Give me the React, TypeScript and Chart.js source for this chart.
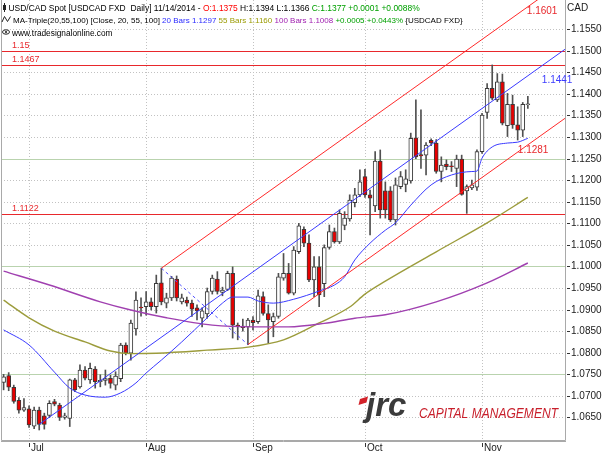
import React, { useEffect, useRef } from "react";
import { Chart, registerables } from "chart.js";
Chart.register(...registerables);

// bar index 0 = 2014-06-24 (daily bars)
const opens = [
  1.0731, 1.0747, 1.0720, 1.0690, 1.0667, 1.0670, 1.0630, 1.0667, 1.0654, 1.0655,
  1.0687, 1.0679, 1.0650, 1.0648, 1.0737, 1.0721, 1.0760, 1.0737, 1.0762, 1.0733,
  1.0736, 1.0741, 1.0725, 1.0740, 1.0818, 1.0799, 1.0855, 1.0906, 1.0907, 1.0918,
  1.0907, 1.0962, 1.0915, 1.0927, 1.0971, 1.0918, 1.0922, 1.0915, 1.0904, 1.0880,
  1.0890, 1.0942, 1.0971, 1.0940, 1.0947, 1.0984, 1.0864, 1.0862, 1.0860, 1.0876,
  1.0872, 1.0930, 1.0891, 1.0872, 1.0884, 1.0973, 1.0984, 1.0938, 1.1034, 1.1086,
  1.1054, 1.0969, 1.0999, 1.0960, 1.1044, 1.1081, 1.1057, 1.1095, 1.1110, 1.1148,
  1.1166, 1.1208, 1.1166, 1.1140, 1.1244, 1.1175, 1.1175, 1.1108, 1.1185, 1.1190,
  1.1198, 1.1298, 1.1259, 1.1258, 1.1292, 1.1286, 1.1220, 1.1237, 1.1233, 1.1227,
  1.1249, 1.1175, 1.1182, 1.1184, 1.1266, 1.1357, 1.1413, 1.1386, 1.1428, 1.1326,
  1.1376, 1.1328, 1.1316, 1.1375,
];
const highs = [
  1.0750, 1.0754, 1.0725, 1.0696, 1.0694, 1.0677, 1.0674, 1.0674, 1.0660, 1.0689,
  1.0692, 1.0683, 1.0660, 1.0739, 1.0741, 1.0772, 1.0768, 1.0776, 1.0768, 1.0749,
  1.0760, 1.0748, 1.0756, 1.0822, 1.0823, 1.0876, 1.0941, 1.0927, 1.0942, 1.0927,
  1.0980, 1.0996, 1.0938, 1.0977, 1.0978, 1.0936, 1.0929, 1.0922, 1.0911, 1.0904,
  1.0950, 1.0980, 1.0988, 1.0952, 1.0989, 1.0999, 1.0869, 1.0878, 1.0880, 1.0884,
  1.0945, 1.0941, 1.0911, 1.0892, 1.0984, 1.1030, 1.1007, 1.1046, 1.1100, 1.1092,
  1.1073, 1.1023, 1.1023, 1.1050, 1.1096, 1.1089, 1.1131, 1.1127, 1.1166, 1.1181,
  1.1224, 1.1225, 1.1177, 1.1266, 1.1270, 1.1196, 1.1185, 1.1205, 1.1220, 1.1224,
  1.1309, 1.1386, 1.1363, 1.1287, 1.1296, 1.1294, 1.1254, 1.1247, 1.1243, 1.1258,
  1.1258, 1.1189, 1.1200, 1.1270, 1.1355, 1.1424, 1.1467, 1.1447, 1.1446, 1.1401,
  1.1397, 1.1370, 1.1380, 1.1394,
];
const lows = [
  1.0714, 1.0712, 1.0683, 1.0660, 1.0664, 1.0627, 1.0624, 1.0621, 1.0623, 1.0650,
  1.0677, 1.0643, 1.0646, 1.0629, 1.0710, 1.0718, 1.0737, 1.0729, 1.0718, 1.0721,
  1.0725, 1.0718, 1.0714, 1.0733, 1.0795, 1.0783, 1.0841, 1.0885, 1.0887, 1.0899,
  1.0892, 1.0911, 1.0904, 1.0921, 1.0920, 1.0913, 1.0908, 1.0884, 1.0876, 1.0860,
  1.0880, 1.0936, 1.0936, 1.0932, 1.0944, 1.0834, 1.0830, 1.0850, 1.0819, 1.0853,
  1.0868, 1.0887, 1.0822, 1.0837, 1.0880, 1.0968, 1.0936, 1.0934, 1.1030, 1.1046,
  1.0965, 1.0930, 1.0907, 1.0930, 1.1040, 1.1054, 1.1053, 1.1085, 1.1105, 1.1138,
  1.1162, 1.1160, 1.1073, 1.1127, 1.1112, 1.1112, 1.1104, 1.1096, 1.1180, 1.1173,
  1.1193, 1.1250, 1.1227, 1.1212, 1.1280, 1.1216, 1.1196, 1.1224, 1.1220, 1.1185,
  1.1165, 1.1123, 1.1178, 1.1176, 1.1262, 1.1343, 1.1386, 1.1382, 1.1328, 1.1301,
  1.1320, 1.1293, 1.1301, 1.1366,
];
const closes = [
  1.0744, 1.0720, 1.0687, 1.0667, 1.0673, 1.0633, 1.0667, 1.0634, 1.0634, 1.0683,
  1.0681, 1.0650, 1.0654, 1.0737, 1.0714, 1.0760, 1.0741, 1.0764, 1.0733, 1.0736,
  1.0740, 1.0729, 1.0746, 1.0818, 1.0799, 1.0869, 1.0922, 1.0904, 1.0918, 1.0907,
  1.0961, 1.0918, 1.0927, 1.0973, 1.0927, 1.0927, 1.0915, 1.0901, 1.0897, 1.0897,
  1.0942, 1.0973, 1.0942, 1.0945, 1.0984, 1.0864, 1.0861, 1.0858, 1.0876, 1.0870,
  1.0932, 1.0891, 1.0876, 1.0884, 1.0976, 1.0984, 1.0938, 1.1038, 1.1094, 1.1054,
  1.0969, 1.0999, 1.0934, 1.1044, 1.1081, 1.1057, 1.1123, 1.1112, 1.1154, 1.1166,
  1.1196, 1.1166, 1.1158, 1.1244, 1.1131, 1.1131, 1.1108, 1.1189, 1.1208, 1.1203,
  1.1297, 1.1254, 1.1256, 1.1281, 1.1286, 1.1220, 1.1235, 1.1231, 1.1231, 1.1249,
  1.1167, 1.1185, 1.1189, 1.1266, 1.1351, 1.1413, 1.1390, 1.1428, 1.1332, 1.1376,
  1.1328, 1.1316, 1.1376, 1.1377,
];

const monthLabels = ["Jul", "Aug", "Sep", "Oct", "Nov"];
const monthStartIdx = [5, 28, 49, 71, 94];

// Moving averages (bar index, value)
const ma20Idx = [0, 5, 10, 13, 16, 20, 23, 26, 28, 31, 35, 40, 43, 45, 48, 50, 53, 57, 62, 65, 67, 69, 72, 75, 77, 80, 84, 88, 92, 93, 94, 96, 99, 101, 103];
const ma20Val = [1.0853, 1.0818, 1.0755, 1.0718, 1.0702, 1.0697, 1.0707, 1.0730, 1.0753, 1.0783, 1.0825, 1.0881, 1.0915, 1.0929, 1.0929, 1.0920, 1.0915, 1.0924, 1.0943, 1.0957, 1.0976, 1.1015, 1.1054, 1.1084, 1.1101, 1.1142, 1.1189, 1.1212, 1.1220, 1.1221, 1.1251, 1.1277, 1.1286, 1.1288, 1.1297];
const ma55Idx = [0, 5, 10, 16, 21, 25, 30, 40, 48, 55, 62, 68, 71, 75, 85, 95, 103];
const ma55Val = [1.0922, 1.0881, 1.0850, 1.0825, 1.0804, 1.0798, 1.0799, 1.0806, 1.0813, 1.0830, 1.0869, 1.0906, 1.0936, 1.0966, 1.1034, 1.1101, 1.1160];
const ma100Idx = [0, 9, 19, 25, 32, 41, 49, 56, 63, 69, 75, 85, 95, 103];
const ma100Val = [1.0989, 1.0957, 1.0918, 1.0899, 1.0881, 1.0864, 1.0860, 1.0860, 1.0868, 1.0880, 1.0888, 1.0918, 1.0962, 1.1008];

// Andrews pitchfork anchors: pivot, upper reaction, lower reaction
const forkIdx = [7, 31, 48];
const forkPrice = [1.0634, 1.0996, 1.0819];
const forkLabels = ["1.1441", "1.1601", "1.1281"];

const hLevels = [1.15, 1.1467, 1.1122];
const hLevelLabels = ["1.15", "1.1467", "1.1122"];
const greenLevels = [1.075, 1.1, 1.125];
const yTickValues = [1.155, 1.15, 1.145, 1.14, 1.135, 1.13, 1.125, 1.12, 1.115, 1.11, 1.105, 1.1, 1.095, 1.09, 1.085, 1.08, 1.075, 1.07, 1.065];

const header1 = [
  "USD/CAD Spot [USDCAD FXD  Daily] 11/14/2014 - ",
  "O:1.1375",
  " H:1.1394 L:1.1366 ",
  "C:1.1377 +0.0001 +0.0088%",
];
const header1Colors = ["#000000", "#ff0000", "#000000", "#00a000"];
const header2 = [
  "MA-Triple(20,55,100) [Close, 20, 55, 100] ",
  "20 Bars 1.1297",
  " 55 Bars 1.1160",
  " 100 Bars 1.1008",
  " +0.0005 +0.0443%",
  " {USDCAD FXD}",
];
const header2Colors = ["#000000", "#2a2aff", "#9a9a00", "#a020b0", "#00a000", "#000000"];
const header3 = "www.tradesignalonline.com";
const axisTitle = "CAD";
const logoMark = "jrc";
const logoText = "CAPITAL MANAGEMENT";

const X_MIN = -0.511;
const X_MAX = 110.3;
const Y_MIN = 1.05978;
const Y_MAX = 1.16175;
const FONT = '"Liberation Sans", Arial, sans-serif';

const pts = (ix: number[], v: number[]) => ix.map((x, i) => ({ x, y: v[i] }));

const slope = ((forkPrice[1] + forkPrice[2]) / 2 - forkPrice[0]) / ((forkIdx[1] + forkIdx[2]) / 2 - forkIdx[0]);
const lineAt = (i0: number, p0: number, i: number) => p0 + slope * (i - i0);

const decor = {
  id: "decor",
  beforeDraw(chart: any) {
    const c = chart.ctx;
    c.save();
    c.fillStyle = "#ffffff";
    c.fillRect(0, 0, chart.width, chart.height);
    c.restore();
  },
  beforeDatasetsDraw(chart: any) {
    const c = chart.ctx;
    const a = chart.chartArea;
    const x = chart.scales.x;
    const y = chart.scales.y;
    c.save();
    c.lineWidth = 1;
    c.strokeStyle = "#c2c2c2";
    c.setLineDash([1, 2]);
    for (const v of yTickValues) {
      if (greenLevels.some((g) => Math.abs(g - v) < 1e-9)) continue;
      const py = Math.round(y.getPixelForValue(v)) + 0.5;
      c.beginPath();
      c.moveTo(a.left, py);
      c.lineTo(a.right, py);
      c.stroke();
    }
    for (const m of monthStartIdx) {
      const px = Math.round(x.getPixelForValue(m)) + 0.5;
      c.beginPath();
      c.moveTo(px, a.top);
      c.lineTo(px, a.bottom);
      c.stroke();
    }
    c.setLineDash([]);
    c.strokeStyle = "#b9d3ae";
    for (const g of greenLevels) {
      const py = Math.round(y.getPixelForValue(g)) + 0.5;
      c.beginPath();
      c.moveTo(a.left, py);
      c.lineTo(a.right, py);
      c.stroke();
    }
    c.strokeStyle = "#e8282c";
    for (const h of hLevels) {
      const py = Math.round(y.getPixelForValue(h)) + 0.5;
      c.beginPath();
      c.moveTo(a.left, py);
      c.lineTo(a.right, py);
      c.stroke();
    }
    c.restore();
  },
  afterDraw(chart: any) {
    const c = chart.ctx;
    const a = chart.chartArea;
    const x = chart.scales.x;
    const y = chart.scales.y;
    c.save();
    // border
    c.strokeStyle = "#a9a9a9";
    c.lineWidth = 1;
    c.beginPath();
    c.moveTo(a.left + 0.5, a.top);
    c.lineTo(a.left + 0.5, a.bottom + 0.5);
    c.lineTo(a.right + 0.5, a.bottom + 0.5);
    c.lineTo(a.right + 0.5, a.top);
    c.stroke();
    c.beginPath();
    c.moveTo(a.left, a.bottom + 1.5);
    c.lineTo(a.right + 1, a.bottom + 1.5);
    c.stroke();

    // y axis labels
    c.font = `10px ${FONT}`;
    c.fillStyle = "#1a1a1a";
    c.strokeStyle = "#333";
    c.textBaseline = "middle";
    c.textAlign = "left";
    for (const v of yTickValues) {
      const py = Math.round(y.getPixelForValue(v)) + 0.5;
      c.beginPath();
      c.moveTo(a.right + 2, py);
      c.lineTo(a.right + 5, py);
      c.stroke();
      c.fillText(v.toFixed(4), a.right + 6, py);
    }
    c.textBaseline = "alphabetic";
    c.fillText(axisTitle, a.right + 2, 11);

    // x axis labels
    c.textBaseline = "top";
    for (let i = 0; i < monthLabels.length; i++) {
      const px = Math.round(x.getPixelForValue(monthStartIdx[i])) + 0.5;
      c.beginPath();
      c.moveTo(px, a.bottom + 3);
      c.lineTo(px, a.bottom + 7);
      c.stroke();
      c.fillText(monthLabels[i], px + 1.5, a.bottom + 3);
    }

    // red level labels
    c.font = `9px ${FONT}`;
    c.fillStyle = "#e8282c";
    c.textBaseline = "alphabetic";
    for (let i = 0; i < hLevels.length; i++) {
      c.fillText(hLevelLabels[i], a.left + 11, y.getPixelForValue(hLevels[i]) - 3);
    }

    // pitchfork labels
    c.font = `10px ${FONT}`;
    c.textBaseline = "middle";
    const last = highs.length - 1;
    const lx = x.getPixelForValue(last);
    const med = lineAt(forkIdx[0], forkPrice[0], last);
    const up = lineAt(forkIdx[1], forkPrice[1], last);
    const lo = lineAt(forkIdx[2], forkPrice[2], last);
    c.fillStyle = "#3c3cff";
    c.fillText(forkLabels[0], lx + 14, y.getPixelForValue(med) + 4);
    c.fillStyle = "#e8282c";
    c.fillText(forkLabels[1], Math.min(lx - 1, a.right - 36), Math.max(y.getPixelForValue(up), 0) + 5);
    c.fillText(forkLabels[2], lx - 10, y.getPixelForValue(lo) + 5);

    // header lines (flowing text)
    c.textBaseline = "alphabetic";
    const flow = (x0: number, yb: number, size: number, segs: string[], cols: string[]) => {
      c.font = `${size}px ${FONT}`;
      let cx = x0;
      for (let i = 0; i < segs.length; i++) {
        c.fillStyle = cols[i];
        c.fillText(segs[i], cx, yb);
        cx += c.measureText(segs[i]).width;
      }
    };
    flow(8.5, 11, 8.45, header1, header1Colors);
    flow(13, 22.5, 8.0, header2, header2Colors);
    c.font = `8.3px ${FONT}`;
    c.fillStyle = "#000";
    c.fillText(header3, 12, 35.5);
    // icons
    c.strokeStyle = "#222";
    c.lineWidth = 1;
    c.beginPath();
    c.moveTo(4.5, 3);
    c.lineTo(4.5, 12);
    c.stroke();
    c.strokeRect(3.5, 5.5, 2, 4);
    c.beginPath();
    c.moveTo(2, 22);
    c.lineTo(4.5, 16.5);
    c.lineTo(7.5, 21.5);
    c.lineTo(10.5, 16.5);
    c.stroke();
    c.beginPath();
    c.ellipse(6, 32, 3.5, 2.2, 0, 0, Math.PI * 2);
    c.stroke();
    c.fillStyle = "#222";
    c.beginPath();
    c.arc(6, 32, 1.1, 0, Math.PI * 2);
    c.fill();

    // logo
    c.fillStyle = "#d3222a";
    c.beginPath();
    c.moveTo(360, 399);
    c.lineTo(368, 396.5);
    c.lineTo(366.5, 402.5);
    c.lineTo(358.5, 405);
    c.closePath();
    c.fill();
    c.fillStyle = "#3b3b3b";
    c.font = `italic bold 33px ${FONT}`;
    c.fillText(logoMark, 366, 416);
    c.fillStyle = "#c8202c";
    c.font = `italic 14px ${FONT}`;
    const w = c.measureText(logoText).width;
    c.save();
    c.translate(419, 418);
    c.scale(139 / w, 1);
    c.fillText(logoText, 0, 0);
    c.restore();
    c.restore();
  },
};

export default function App() {
  const ref = useRef<HTMLCanvasElement>(null);
  useEffect(() => {
    document.body.style.margin = "0";
    const canvas = ref.current!;
    const idx = opens.map((_, i) => i);
    const wick = idx.map((i) => ({ x: i, y: [lows[i], highs[i]] }));
    const body = idx.map((i) => ({ x: i, y: [opens[i], closes[i]] }));
    const bodyColors = idx.map((i) => (closes[i] >= opens[i] ? "#ffffff" : "#e60000"));

    const medEnd = lineAt(forkIdx[0], forkPrice[0], X_MAX);
    const upEnd = lineAt(forkIdx[1], forkPrice[1], X_MAX);
    const loEnd = lineAt(forkIdx[2], forkPrice[2], X_MAX);

    const lineDs = (data: any[], color: string, width: number, order: number, extra: any = {}) => ({
      type: "line",
      data,
      borderColor: color,
      borderWidth: width,
      pointRadius: 0,
      fill: false,
      order,
      ...extra,
    });

    const chart = new Chart(canvas, {
      type: "bar",
      data: {
        datasets: [
          {
            type: "bar",
            data: wick as any,
            backgroundColor: "#505050",
            borderWidth: 0,
            barThickness: 1,
            grouped: false,
            order: 6,
          },
          {
            type: "bar",
            data: body as any,
            backgroundColor: bodyColors,
            borderColor: "#3a3a3a",
            borderWidth: 1,
            borderSkipped: false,
            barThickness: 4,
            grouped: false,
            order: 5,
          },
          lineDs(pts(ma100Idx, ma100Val), "#a040b0", 1.4, 4, { tension: 0.4, cubicInterpolationMode: "monotone" }),
          lineDs(pts(ma55Idx, ma55Val), "#9c9c3c", 1.4, 4, { tension: 0.4, cubicInterpolationMode: "monotone" }),
          lineDs(pts(ma20Idx, ma20Val), "#3a3aff", 1, 3, { tension: 0.4, cubicInterpolationMode: "monotone" }),
          lineDs([{ x: forkIdx[0], y: forkPrice[0] }, { x: X_MAX, y: medEnd }], "#3a3aff", 1, 2),
          lineDs([{ x: forkIdx[1], y: forkPrice[1] }, { x: X_MAX, y: upEnd }], "#ff2a2a", 1, 2),
          lineDs([{ x: forkIdx[2], y: forkPrice[2] }, { x: X_MAX, y: loEnd }], "#ff2a2a", 1, 2),
          lineDs([{ x: forkIdx[1], y: forkPrice[1] }, { x: forkIdx[2], y: forkPrice[2] }], "#5050ff", 1, 2, { borderDash: [3, 3] }),
        ] as any,
      },
      options: {
        responsive: false,
        animation: false,
        devicePixelRatio: 1,
        layout: { padding: { left: 1, right: 40, top: 0, bottom: 14 } },
        plugins: { legend: { display: false }, tooltip: { enabled: false } },
        events: [],
        scales: {
          x: { type: "linear", min: X_MIN, max: X_MAX, display: false, offset: false },
          y: { type: "linear", min: Y_MIN, max: Y_MAX, display: false },
        },
      } as any,
      plugins: [decor],
    });
    return () => chart.destroy();
  }, []);
  return (
    <div style={{ position: "absolute", left: 0, top: 0, width: 605, height: 454 }}>
      <canvas ref={ref} width={605} height={454} style={{ display: "block" }} />
    </div>
  );
}
